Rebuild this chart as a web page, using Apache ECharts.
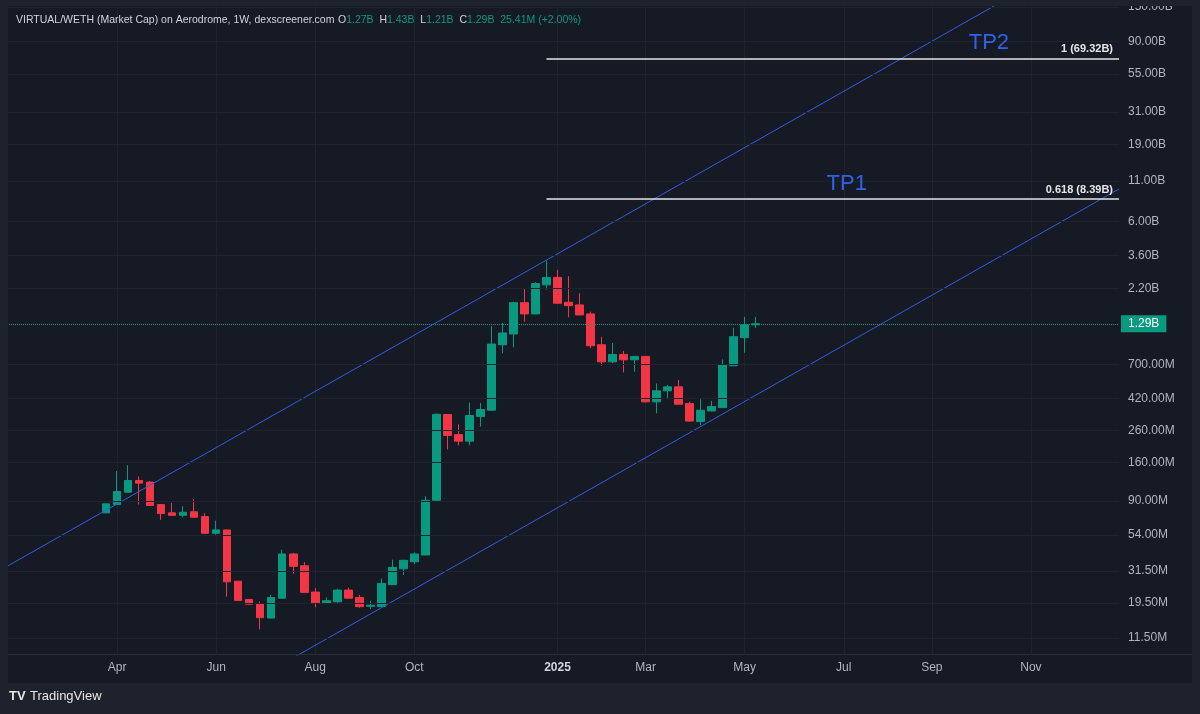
<!DOCTYPE html>
<html>
<head>
<meta charset="utf-8">
<title>VIRTUAL/WETH Market Cap</title>
<script src="https://cdn.jsdelivr.net/npm/echarts@6/dist/echarts.min.js"></script>
<style>
html, body { margin: 0; padding: 0; background: #1e222d; }
#main { width: 1200px; height: 714px; }
</style>
</head>
<body>
<div id="main"></div>
<script>
// weekly candles, market cap in millions (M)
const weekCount = 102;      // slots on the time axis, first slot = 2024-01-22
const firstCandle = 9;      // slot of the 2024-03-25 candle

const candleOpen = [75.3, 85.3, 102.7, 122.5, 119.5, 85.3, 75.3, 72.6, 76.5, 71.2,
  55.4, 58.3, 27.0, 20.5, 19.3, 15.5, 20.9, 40.6, 34.0, 22.9,
  19.4, 19.8, 23.6, 21.1, 18.5, 18.4, 25.6, 32.5, 36.1, 40.0,
  91.0, 330, 244, 221, 320, 352, 941, 1106, 1772, 1495,
  2314, 2590, 1782, 1712, 1495, 941, 728, 814, 751, 790,
  399, 471, 500, 389, 297, 348, 366, 686, 1046, 1270];
const candleClose = [86.2, 103.8, 122.5, 117.7, 84.1, 74.5, 72.6, 76.0, 70.5, 55.4,
  58.3, 26.7, 20.2, 19.1, 15.6, 21.1, 40.6, 33.7, 22.8, 19.4,
  20.1, 23.6, 20.9, 18.4, 18.8, 26.1, 33.2, 36.9, 40.6, 91.0,
  331, 241, 221, 325, 356, 951, 1123, 1772, 1495, 2360,
  2583, 1756, 1694, 1473, 927, 728, 814, 751, 790, 399,
  471, 500, 385, 299, 352, 372, 696, 1062, 1270, 1290];
const candleLow = [75.1, 85.3, 102.7, 85.3, 84.1, 67.8, 72.3, 70.5, 70.5, 55.4,
  54.3, 21.4, 20.2, 18.9, 13.1, 15.5, 20.9, 30.2, 22.8, 18.2,
  19.2, 19.2, 20.9, 18.1, 17.7, 18.3, 25.6, 29.6, 34.9, 40.0,
  90.6, 195, 208, 208, 275, 352, 827, 905, 1331, 1495,
  2155, 1756, 1423, 1473, 892, 686, 714, 621, 627, 395,
  336, 415, 385, 297, 281, 348, 366, 686, 834, 1210];
const candleHigh = [86.6, 141.0, 154.3, 130.1, 121.2, 85.3, 87.6, 83.2, 92.4, 74.8,
  67.1, 58.6, 27.1, 20.6, 19.9, 22.0, 43.3, 41.2, 35.8, 24.3,
  21.2, 24.1, 24.5, 22.0, 20.1, 28.1, 37.3, 37.3, 41.6, 96.7,
  335, 331, 285, 395, 393, 1242, 1305, 1799, 2179, 2410,
  3337, 2900, 2638, 2042, 1548, 1062, 966, 856, 795, 795,
  526, 515, 555, 399, 415, 405, 755, 1216, 1429, 1430];

const tickDates = ['2024-04-01', '2024-06-03', '2024-08-05', '2024-10-07', '2025-01-06',
  '2025-03-03', '2025-05-05', '2025-07-07', '2025-09-01', '2025-11-03'];
const tickTexts = ['Apr', 'Jun', 'Aug', 'Oct', '2025', 'Mar', 'May', 'Jul', 'Sep', 'Nov'];
const priceTicks = [11.5, 19.5, 31.5, 54, 90, 160, 260, 420, 700,
  2200, 3600, 6000, 11000, 19000, 31000, 55000, 90000, 150000];

// channel lines, [slot, value] end points
const upperChannel = [[0, 33.7], [101, 443800]];
const lowerChannel = [[0, 0.743], [101, 9772]];

const fibValues = [69320, 8390];
const fibTexts = ['1 (69.32B)', '0.618 (8.39B)'];
const fibStart = 49;
const lastPrice = 1290;

// legend row
const legendKeys = ['O', 'H', 'L', 'C', ''];
const legendVals = ['1.27B', '1.43B', '1.21B', '1.29B', '25.41M (+2.00%)'];

const categories = [];
for (let i = 0; i < weekCount; i++) {
  categories.push(new Date(Date.UTC(2024, 0, 22 + i * 7)).toISOString().slice(0, 10));
}

const candleData = categories.map((c, i) => {
  const k = i - firstCandle;
  if (k < 0 || k >= candleOpen.length) return '-';
  return [candleOpen[k], candleClose[k], candleLow[k], candleHigh[k]];
});

function fmt(v) {
  return v >= 1000 ? (v / 1000).toFixed(2) + 'B' : v.toFixed(2) + 'M';
}

const isTick = (i, v) => tickDates.includes(v);

const legendText = legendKeys
  .map((k, i) => (k ? '{k|' + k + '}' : '') + '{v|' + legendVals[i] + '}')
  .join('{k|  }');

let myChart = echarts.init(document.getElementById('main'));

let option = {
  backgroundColor: '#161a25',
  animation: false,
  grid: { left: 7, right: 81, top: 6, bottom: 59 },
  xAxis: {
    type: 'category',
    data: categories,
    boundaryGap: false,
    axisLine: { show: false },
    axisTick: { show: false },
    axisLabel: {
      interval: isTick,
      margin: 7,
      color: '#b2b5be',
      fontSize: 12,
      fontFamily: 'Liberation Sans',
      formatter: v => {
        const t = tickTexts[tickDates.indexOf(v)];
        return t === '2025' ? '{y|2025}' : t;
      },
      rich: { y: { fontWeight: 'bold', color: '#d1d4dc', fontSize: 12, fontFamily: 'Liberation Sans' } }
    },
    splitLine: { show: true, interval: isTick, lineStyle: { color: '#1f2330', width: 1 } }
  },
  yAxis: {
    type: 'log',
    logBase: 10,
    min: 8.9,
    max: 152700,
    position: 'right',
    axisLine: { show: false },
    axisTick: { show: false },
    axisLabel: { show: false },
    splitLine: { show: false }
  },
  series: [
    {
      // price scale grid and labels
      type: 'line',
      data: [],
      z: 1,
      silent: true,
      markLine: {
        silent: true,
        symbol: ['none', 'none'],
        lineStyle: { color: '#1f2330', type: 'solid', width: 1 },
        label: {
          position: 'end', distance: 9, formatter: '{b}',
          color: '#b2b5be', fontSize: 12, fontFamily: 'Liberation Sans'
        },
        data: priceTicks.map(v => ({ yAxis: v, name: fmt(v) }))
      }
    },
    {
      type: 'candlestick',
      data: candleData,
      barWidth: 8,
      z: 3,
      itemStyle: {
        color: '#089981', color0: '#f23645',
        borderColor: '#089981', borderColor0: '#f23645', borderWidth: 1
      },
      markLine: {
        silent: true,
        symbol: ['none', 'none'],
        lineStyle: { color: '#089981', type: 'dotted', width: 1 },
        label: {
          position: 'end', distance: 2, formatter: '{b}',
          color: '#ffffff', backgroundColor: '#089981', padding: [3, 7, 2, 7],
          fontSize: 12, fontFamily: 'Liberation Sans'
        },
        data: [{ yAxis: lastPrice, name: fmt(lastPrice) }]
      },
      markPoint: {
        silent: true,
        symbol: 'circle',
        symbolSize: 1,
        itemStyle: { color: 'rgba(0,0,0,0)' },
        label: {
          show: true, position: 'inside', formatter: '{b}',
          color: '#2f62e8', fontSize: 22, fontFamily: 'Liberation Sans'
        },
        data: [
          { name: 'TP2', coord: [categories[89], 90100], label: { offset: [2, 2] } },
          { name: 'TP1', coord: [categories[76], 10760], label: { offset: [3, 1] } }
        ]
      }
    },
    {
      type: 'line',
      data: upperChannel,
      z: 4,
      silent: true,
      showSymbol: false,
      lineStyle: { color: '#2f5fe0', width: 1 },
      markLine: {
        silent: true,
        symbol: ['none', 'none'],
        lineStyle: { color: '#e6e6e6', type: 'solid', width: 1.5 },
        label: {
          position: 'insideEndTop', formatter: '{b}', distance: [6, 4],
          color: '#e6e6e6', fontSize: 11, fontWeight: 'bold', fontFamily: 'Liberation Sans'
        },
        data: fibValues.map((v, i) => [
          { coord: [categories[fibStart], v], name: fibTexts[i] },
          { coord: [categories[weekCount - 1], v] }
        ])
      }
    },
    {
      type: 'line',
      data: lowerChannel,
      z: 4,
      silent: true,
      showSymbol: false,
      lineStyle: { color: '#2f5fe0', width: 1 }
    }
  ],
  graphic: {
    elements: [
      { type: 'rect', z: 100, shape: { x: 0, y: 0, width: 1200, height: 6 }, style: { fill: '#1e222d' } },
      { type: 'rect', z: 100, shape: { x: 0, y: 0, width: 8, height: 714 }, style: { fill: '#1e222d' } },
      { type: 'rect', z: 100, shape: { x: 1192, y: 0, width: 8, height: 714 }, style: { fill: '#1e222d' } },
      { type: 'rect', z: 100, shape: { x: 0, y: 683, width: 1200, height: 31 }, style: { fill: '#1e222d' } },
      { type: 'rect', z: 100, shape: { x: 8, y: 654, width: 1184, height: 1 }, style: { fill: '#2a2e39' } },
      {
        type: 'text', z: 100, left: 16, top: 15,
        style: { text: 'VIRTUAL/WETH (Market Cap) on Aerodrome, 1W, dexscreener.com', fill: '#d1d4dc', font: '10.5px Liberation Sans' }
      },
      {
        type: 'text', z: 100, left: 338, top: 15,
        style: {
          text: legendText,
          rich: {
            k: { fill: '#d1d4dc', font: '10.5px Liberation Sans' },
            v: { fill: '#089981', font: '10.5px Liberation Sans' }
          }
        }
      },
      {
        type: 'text', z: 100, left: 9, top: 690,
        style: { text: 'TV', fill: '#e6e6e6', font: 'bold 13px Liberation Sans' }
      },
      {
        type: 'text', z: 100, left: 30, top: 690,
        style: { text: 'TradingView', fill: '#e6e6e6', font: '13px Liberation Sans' }
      }
    ]
  }
};

myChart.setOption(option);
</script>
</body>
</html>
